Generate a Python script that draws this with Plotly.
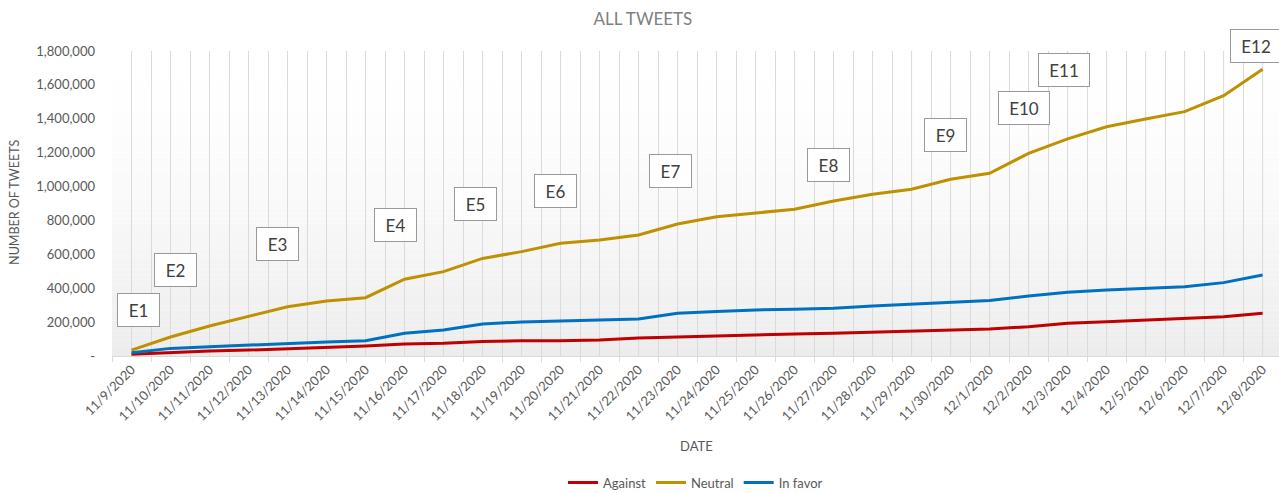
import plotly.graph_objects as go

# Daily cumulative tweet counts by stance
dates = [
    "11/9/2020", "11/10/2020", "11/11/2020", "11/12/2020", "11/13/2020",
    "11/14/2020", "11/15/2020", "11/16/2020", "11/17/2020", "11/18/2020",
    "11/19/2020", "11/20/2020", "11/21/2020", "11/22/2020", "11/23/2020",
    "11/24/2020", "11/25/2020", "11/26/2020", "11/27/2020", "11/28/2020",
    "11/29/2020", "11/30/2020", "12/1/2020", "12/2/2020", "12/3/2020",
    "12/4/2020", "12/5/2020", "12/6/2020", "12/7/2020", "12/8/2020",
]

against = [
    10000, 20000, 30000, 35000, 43000, 47000, 59000, 71000, 75000, 85000,
    90000, 90000, 94000, 106000, 112000, 122000, 128000, 130000, 134000, 140000,
    148000, 153000, 159000, 173000, 193000, 202000, 212000, 222000, 232000, 252000,
]

neutral = [
    35000, 112000, 177000, 236000, 291000, 325000, 344000, 453000, 498000, 576000,
    616000, 665000, 685000, 714000, 779000, 822000, 846000, 866000, 915000, 954000,
    984000, 1043000, 1078000, 1196000, 1281000, 1353000, 1399000, 1442000, 1536000, 1692000,
]

in_favor = [
    19000, 45000, 55000, 65000, 75000, 83000, 90000, 134000, 153000, 189000,
    201000, 205000, 212000, 218000, 252000, 262000, 272000, 276000, 282000, 295000,
    305000, 315000, 327000, 354000, 376000, 390000, 400000, 409000, 433000, 478000,
]

y_max = 1800000
y_tick_values = [0, 200000, 400000, 600000, 800000, 1000000, 1200000, 1400000, 1600000, 1800000]
y_tick_labels = ["-", "200,000", "400,000", "600,000", "800,000", "1,000,000",
                 "1,200,000", "1,400,000", "1,600,000", "1,800,000"]

# Event markers (x as date index, y in tweet counts)
event_labels = ["E1", "E2", "E3", "E4", "E5", "E6", "E7", "E8", "E9", "E10", "E11", "E12"]
event_x = [0.17, 1.13, 3.74, 6.77, 8.82, 10.87, 13.81, 17.86, 20.86, 22.89, 23.91, 28.83]
event_y = [271000, 508000, 661000, 773000, 897000, 974000, 1092000, 1127000,
           1304000, 1464000, 1688000, 1830000]

FONT = "Lato, 'Open Sans', sans-serif"
TXT = "#595959"
GRID = "#dadada"

fig = go.Figure()
fig.add_trace(go.Scatter(x=dates, y=against, name="Against", mode="lines",
                         line=dict(color="#C00000", width=3)))
fig.add_trace(go.Scatter(x=dates, y=neutral, name="Neutral", mode="lines",
                         line=dict(color="#BF9000", width=3)))
fig.add_trace(go.Scatter(x=dates, y=in_favor, name="In favor", mode="lines",
                         line=dict(color="#0070C0", width=3)))

shapes = []
# soft vertical gradient in the plotting area (white at top, light grey at bottom)
n_bands = 60
for i in range(n_bands):
    t0 = i / n_bands
    t1 = (i + 1) / n_bands
    tm = (t0 + t1) / 2
    shade = int(round(255 - 19 * (1 - tm) ** 1.6))
    shapes.append(dict(type="rect", xref="x domain", yref="y domain",
                       x0=0, x1=1, y0=t0, y1=t1, layer="below",
                       line=dict(width=0),
                       fillcolor=f"rgb({shade},{shade},{shade})"))
# gridlines through each date as well as between dates
for d in dates:
    shapes.append(dict(type="line", xref="x", yref="y domain",
                       x0=d, x1=d, y0=0, y1=1, layer="below",
                       line=dict(color=GRID, width=1)))

annotations = []
for lbl, ex, ey in zip(event_labels, event_x, event_y):
    annotations.append(dict(
        x=ex, y=ey / y_max, xref="x", yref="paper", text=lbl, showarrow=False,
        font=dict(family=FONT, size=17, color="#404040"),
        bordercolor="#999999", borderwidth=1, borderpad=0,
        bgcolor="rgba(255,255,255,0.9)",
        width=50 if len(lbl) > 2 else 41, height=32,
        xanchor="center", yanchor="middle", align="center",
    ))

annotations.append(dict(
    text="NUMBER OF TWEETS", xref="paper", yref="paper", x=-0.0831, y=0.502,
    textangle=-90, showarrow=False, xanchor="center", yanchor="middle",
    font=dict(family=FONT, size=12.5, color=TXT)))
annotations.append(dict(
    text="DATE", xref="paper", yref="paper", x=0.501, y=-0.295,
    showarrow=False, xanchor="center", yanchor="middle",
    font=dict(family=FONT, size=13, color=TXT)))

fig.update_layout(
    width=1279, height=493,
    margin=dict(l=112, r=0, t=51, b=137, autoexpand=False),
    paper_bgcolor="white", plot_bgcolor="white",
    font=dict(family=FONT, color=TXT),
    title=dict(text="ALL TWEETS", x=0.5027, y=0.9615, xanchor="center", yanchor="middle",
               xref="container", yref="container",
               font=dict(family=FONT, size=17, color="#808080")),
    showlegend=True,
    legend=dict(orientation="h", x=0.5, xanchor="center", y=-0.415, yanchor="middle",
                font=dict(family=FONT, size=13, color=TXT), itemwidth=30,
                bgcolor="rgba(0,0,0,0)"),
    shapes=shapes,
    annotations=annotations,
)

fig.update_xaxes(
    type="category", range=[-0.5, 29.42], tickson="boundaries", automargin=False,
    showgrid=True, gridcolor=GRID, gridwidth=1,
    ticks="outside", ticklen=5, tickcolor=GRID,
    showline=True, linecolor=GRID, linewidth=1,
    tickangle=-45, tickfont=dict(family=FONT, size=13, color=TXT),
    fixedrange=True,
)
fig.update_yaxes(
    range=[0, y_max], tickvals=y_tick_values, ticktext=y_tick_labels, automargin=False,
    showgrid=False, zeroline=False, showline=False, ticks="",
    ticklabelstandoff=16, tickfont=dict(family=FONT, size=13, color=TXT),
    fixedrange=True,
)

fig.write_html("out.html")
